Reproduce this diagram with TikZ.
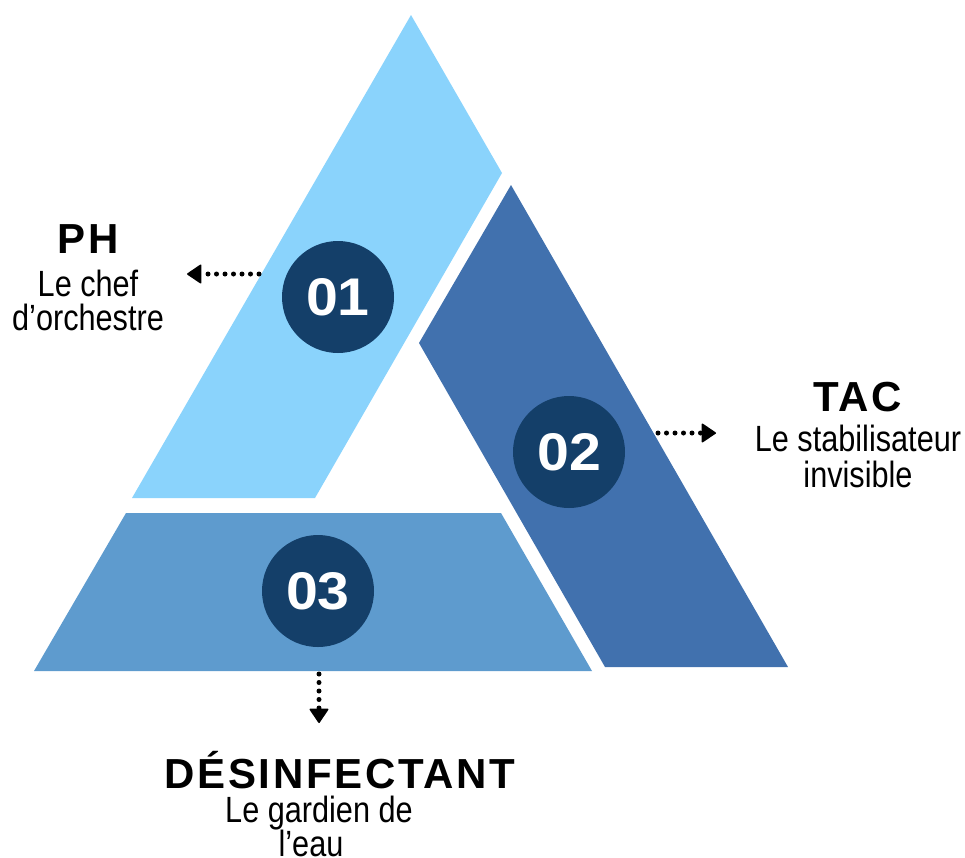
\documentclass[tikz,border=0pt]{standalone}
\usepackage{fontspec}
\setmainfont{Liberation Sans}
\newfontfamily\headfont{Liberation Sans}[LetterSpace=6.5]
\newfontfamily\bodyfont{Liberation Sans}[FakeStretch=0.84]
\newfontfamily\numfont{Liberation Sans}[FakeStretch=1.08]
\usetikzlibrary{arrows.meta}
\definecolor{lightb}{HTML}{8AD3FC}
\definecolor{darkb}{HTML}{4171AE}
\definecolor{midb}{HTML}{5E9BCE}
\definecolor{circ}{HTML}{143F69}
\tikzset{
  headtxt/.style={anchor=base, inner sep=0pt, font=\headfont\bfseries\fontsize{42}{42}\selectfont},
  bodytxt/.style={anchor=base, inner sep=0pt, font=\bodyfont\fontsize{36.5}{36.5}\selectfont},
  numcirc/.style={circle, fill=circ, minimum size=112pt, inner sep=0pt, text=white,
    font=\numfont\bfseries\fontsize{53}{53}\selectfont},
  dotarrow/.style={line width=5pt, line cap=round, dash pattern=on 0pt off 8.5pt,
    -{Triangle[length=15pt,width=20pt,line width=1.5pt,round]}}
}
\begin{document}
\begin{tikzpicture}[x=1pt,y=-1pt]
\useasboundingbox (0,0) rectangle (965,857);
% shapes
\fill[lightb] (411,15) -- (502,173) -- (315,498) -- (132,498) -- cycle;
\fill[darkb] (511,185) -- (788,667) -- (605,667) -- (419,343) -- cycle;
\fill[midb] (126,513) -- (501,513) -- (592,671) -- (34,671) -- cycle;
% number circles
\node[numcirc] (c1) at (338,297) {01};
\node[numcirc] (c2) at (569,452) {02};
\node[numcirc] (c3) at (318,591) {03};
% labels
\node[headtxt] (ph) at (88,253) {PH};
\node[bodytxt] (ph1) at (88,296) {Le chef};
\node[bodytxt] (ph2) at (88,330) {d’orchestre};
\node[headtxt] (tac) at (858,411) {TAC};
\node[bodytxt] (tac1) at (858,451) {Le stabilisateur};
\node[bodytxt] (tac2) at (858,487) {invisible};
\node[headtxt] (des) at (340,788) {DÉSINFECTANT};
\node[bodytxt] (des1) at (319,822) {Le gardien de};
\node[bodytxt] (des2) at (311,856) {l’eau};
% arrows
\coordinate (a1s) at (259,274);
\coordinate (a1e) at (187,274);
\coordinate (a2s) at (658,433);
\coordinate (a2e) at (716,433);
\coordinate (a3s) at (319,674);
\coordinate (a3e) at (319,723);
\draw[dotarrow] (a1s) -- (a1e);
\draw[dotarrow] (a2s) -- (a2e);
\draw[dotarrow] (a3s) -- (a3e);
\end{tikzpicture}
\end{document}
